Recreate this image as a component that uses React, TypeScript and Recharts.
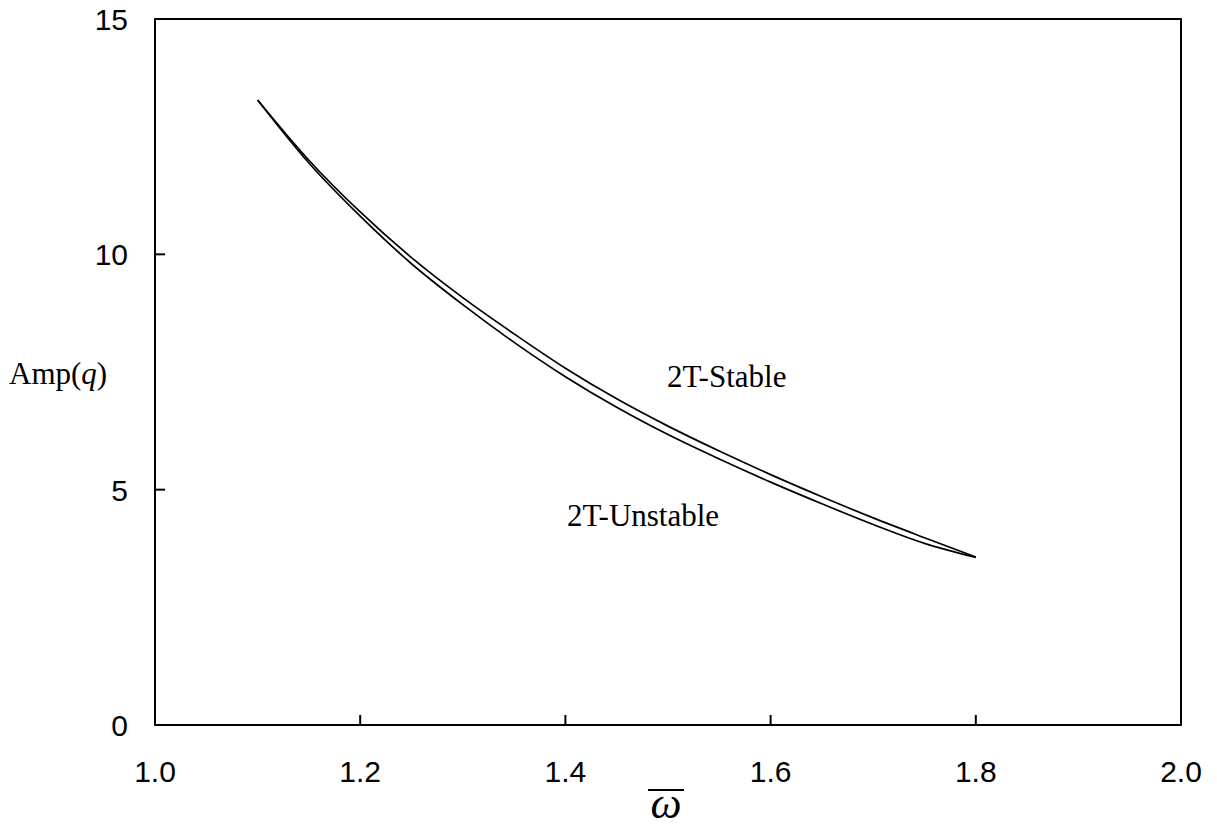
import React from "react";
import {
    LineChart,
    Line,
    XAxis,
    YAxis,
    ReferenceArea,
    Customized,
} from "recharts";

// omega-bar values
const omega = [1.1, 1.15, 1.2, 1.25, 1.3, 1.35, 1.4, 1.45, 1.5, 1.55, 1.6, 1.65, 1.7, 1.75, 1.8];
// upper branch (2T-Stable side)
const stableAmp = [13.28, 12.0, 10.9, 9.93, 9.08, 8.31, 7.58, 6.93, 6.35, 5.82, 5.32, 4.85, 4.4, 3.98, 3.57];
// lower branch (2T-Unstable side)
const unstableAmp = [13.28, 11.94, 10.81, 9.8, 8.93, 8.13, 7.4, 6.75, 6.17, 5.65, 5.16, 4.7, 4.26, 3.86, 3.56];

const xTicks = [1.0, 1.2, 1.4, 1.6, 1.8, 2.0];
const yTicks = [0, 5, 10, 15];

const data = omega.map((w, i) => ({
    w,
    stable: stableAmp[i],
    unstable: unstableAmp[i],
}));

const tickFont = { fontFamily: "Liberation Sans, Arial, sans-serif", fontSize: 30, fill: "#000" };
const serif = "Liberation Serif, Times New Roman, serif";

const XTick = (props: any) => {
    const { x, y, payload } = props;
    return (
        <g>
            <line x1={x} y1={y} x2={x} y2={y - 10} stroke="#000" strokeWidth={2} />
            <text x={x} y={y + 57} textAnchor="middle" {...tickFont}>
                {Number(payload.value).toFixed(1)}
            </text>
        </g>
    );
};

const YTick = (props: any) => {
    const { x, y, payload } = props;
    return (
        <g>
            <line x1={x} y1={y} x2={x + 10} y2={y} stroke="#000" strokeWidth={2} />
            <text x={x - 27} y={y + 11} textAnchor="end" {...tickFont}>
                {payload.value}
            </text>
        </g>
    );
};

const Labels = () => (
    <g>
        <text x={9} y={384} fontFamily={serif} fontSize={31} fill="#000">
            Amp(<tspan fontStyle="italic">q</tspan>)
        </text>
        <text x={667} y={387} fontFamily={serif} fontSize={31} fill="#000">
            2T-Stable
        </text>
        <text x={567} y={526} fontFamily={serif} fontSize={31} fill="#000">
            2T-Unstable
        </text>
        <text x={666} y={818} textAnchor="middle" fontFamily={serif} fontStyle="italic" fontSize={44} fill="#000">
            ω
        </text>
        <line x1={648} y1={790} x2={684} y2={790} stroke="#000" strokeWidth={2} />
    </g>
);

export default function App() {
    return (
        <div style={{ position: "absolute", left: 0, top: 0, background: "#fff" }}>
            <LineChart
                width={1217}
                height={827}
                data={data}
                margin={{ top: 19, right: 36, bottom: 42, left: 95 }}
            >
                <XAxis
                    dataKey="w"
                    type="number"
                    domain={[1, 2]}
                    ticks={xTicks}
                    height={60}
                    axisLine={false}
                    tickLine={false}
                    tickSize={0}
                    tickMargin={0}
                    tick={<XTick />}
                    interval={0}
                />
                <YAxis
                    type="number"
                    domain={[0, 15]}
                    ticks={yTicks}
                    width={60}
                    axisLine={false}
                    tickLine={false}
                    tickSize={0}
                    tickMargin={0}
                    tick={<YTick />}
                    interval={0}
                />
                <ReferenceArea x1={1} x2={2} y1={0} y2={15} fill="none" stroke="#000" strokeWidth={2} />
                <Line
                    dataKey="stable"
                    type="monotone"
                    stroke="#000"
                    strokeWidth={1.7}
                    dot={false}
                    isAnimationActive={false}
                />
                <Line
                    dataKey="unstable"
                    type="monotone"
                    stroke="#000"
                    strokeWidth={1.7}
                    dot={false}
                    isAnimationActive={false}
                />
                <Customized component={Labels} />
            </LineChart>
        </div>
    );
}
